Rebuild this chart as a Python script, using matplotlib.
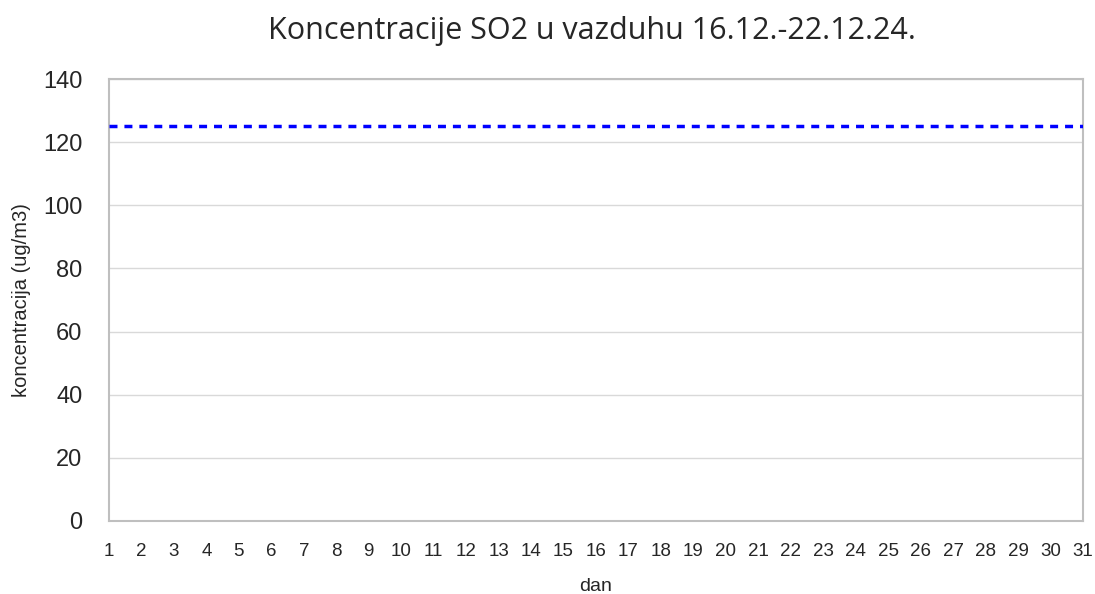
import matplotlib
matplotlib.use("Agg")
import matplotlib.pyplot as plt

days = list(range(1, 32))
limit_value = 125
limit_series = [limit_value] * len(days)
y_ticks = [0, 20, 40, 60, 80, 100, 120, 140]
title = "Koncentracije SO2 u vazduhu 16.12.-22.12.24."

plt.rcParams['font.family'] = ['Liberation Sans', 'DejaVu Sans']

fig = plt.figure(figsize=(10.95, 5.94), dpi=100)
ax = fig.add_axes([0.0995, 0.1229, 0.8895, 0.7441])

ax.plot(days, limit_series, color='#0000FF', linewidth=2.5, linestyle=(0, (2.3, 2.0)),
        dash_capstyle='butt', zorder=3)

ax.set_xlim(1, 31)
ax.set_ylim(0, 140)
ax.set_xticks(days)
ax.set_xticklabels([str(d) for d in days], fontsize=13.5, color='#262626')
ax.set_yticks(y_ticks)
ax.set_yticklabels([str(v) for v in y_ticks], fontsize=17, color='#262626')
ax.tick_params(axis='both', length=0)
ax.tick_params(axis='x', pad=16)
ax.tick_params(axis='y', pad=19)

ax.grid(axis='y', color='#D9D9D9', linewidth=1.0)
ax.set_axisbelow(True)
for s in ax.spines.values():
    s.set_color('#BFBFBF')
    s.set_linewidth(1.5)

ax.set_xlabel('dan', fontsize=14, color='#262626', labelpad=13)
ax.set_ylabel('koncentracija (ug/m3)', fontsize=14.5, color='#262626', labelpad=9)
fig.text(0.541, 1 - 39 / 594, title, fontsize=22, color='#262626',
         ha='center', va='baseline', family=['Open Sans', 'DejaVu Sans'])

fig.savefig('out.png', dpi=100)
